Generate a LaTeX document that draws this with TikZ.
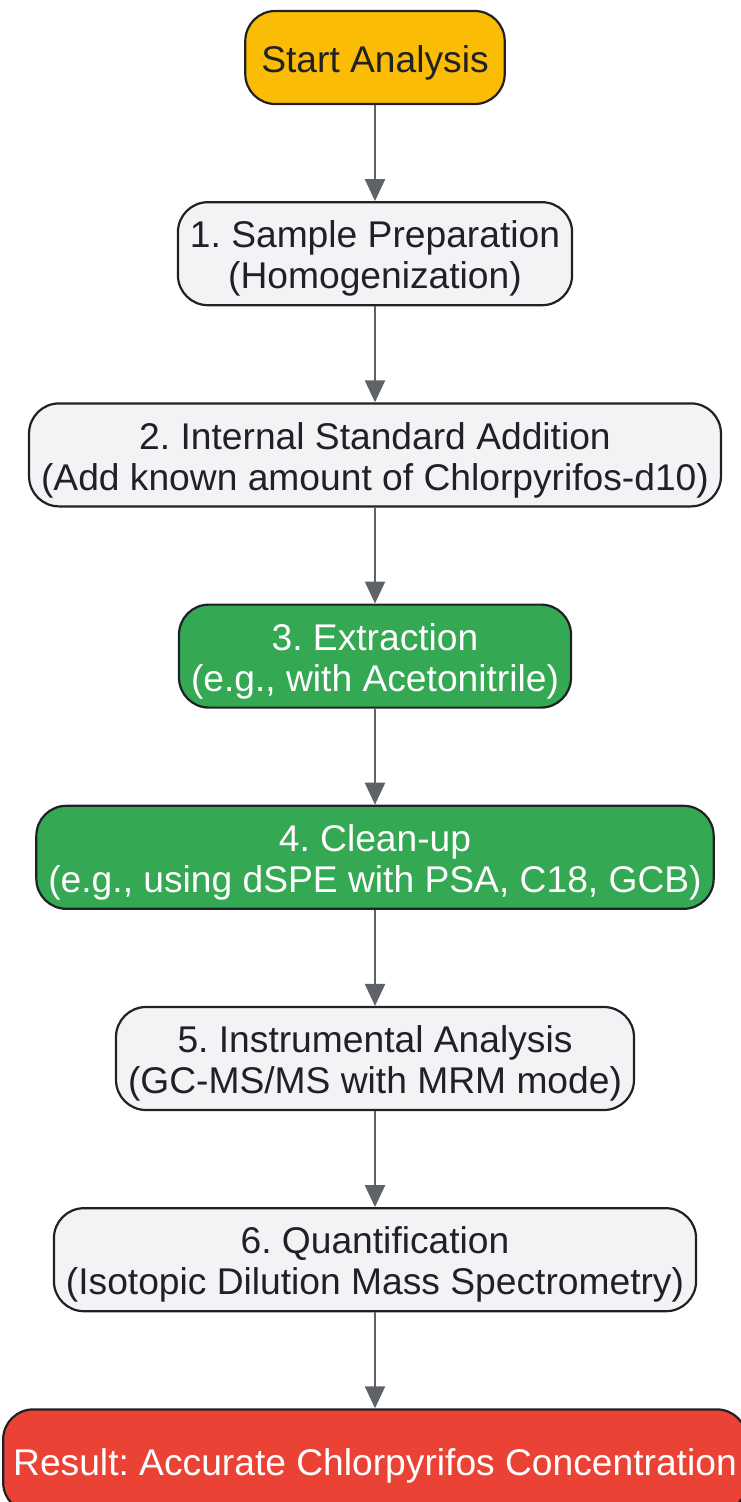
\documentclass[tikz,border=0pt]{standalone}
\usepackage{fontspec}
\setmainfont{Liberation Sans}
\usepackage{tikz}
\usetikzlibrary{arrows.meta, positioning}
\frenchspacing
\definecolor{startyellow}{HTML}{FBBC05}
\definecolor{stagegrey}{HTML}{F1F3F4}
\definecolor{stagegreen}{HTML}{34A853}
\definecolor{resultred}{HTML}{EA4335}
\definecolor{edgegrey}{HTML}{5F6368}
\definecolor{inkdark}{HTML}{202124}
\newcommand{\tallstrut}{\rule{0pt}{37pt}}
\tikzstyle{stage} = [
  rectangle, rounded corners = 30pt,
  minimum height = 103pt, inner xsep = 12pt, inner ysep = 0pt,
  draw = inkdark, line width = 2.2pt, fill = stagegrey,
  text = inkdark, align = center,
  font = \fontsize{37.2}{41}\selectfont
]
\tikzstyle{startbox} = [stage, fill = startyellow, minimum height = 93pt,
  inner xsep = 16pt]
\tikzstyle{greenbox} = [stage, fill = stagegreen, text = white]
\tikzstyle{resultbox} = [stage, fill = resultred, text = white, inner xsep = 10pt]
\tikzstyle{flow} = [-{Triangle[width = 20pt, length = 22pt]}, draw = edgegrey,
  line width = 2.4pt]

\begin{document}
\begin{tikzpicture}[x = 1pt, y = 1pt, node distance = 96pt]
      \useasboundingbox (0, 0) rectangle (740, -1502);
      % start
      \node [startbox] (start) at (375, -57.5) {\tallstrut Start Analysis};
      % steps 1-6
      \node [stage, below = of start] (prep)
        {\tallstrut 1. Sample Preparation\\(Homogenization)};
      \node [stage, below = of prep] (istd)
        {\tallstrut 2. Internal Standard Addition\\(Add known amount of Chlorpyrifos-d10)};
      \node [greenbox, below = of istd] (extract)
        {\tallstrut 3. Extraction\\(e.g., with Acetonitrile)};
      \node [greenbox, below = of extract] (cleanup)
        {\tallstrut 4. Clean-up\\(e.g., using dSPE with PSA, C18, GCB)};
      \node [stage, below = of cleanup] (instr)
        {\tallstrut 5. Instrumental Analysis\\(GC-MS/MS with MRM mode)};
      \node [stage, below = of instr] (quant)
        {\tallstrut 6. Quantification\\(Isotopic Dilution Mass Spectrometry)};
      % result
      \node [resultbox, below = of quant] (result)
        {\tallstrut Result: Accurate Chlorpyrifos Concentration};

      \draw [flow] (start) -- (prep);
      \draw [flow] (prep) -- (istd);
      \draw [flow] (istd) -- (extract);
      \draw [flow] (extract) -- (cleanup);
      \draw [flow] (cleanup) -- (instr);
      \draw [flow] (instr) -- (quant);
      \draw [flow] (quant) -- (result);
    \end{tikzpicture}
\end{document}
